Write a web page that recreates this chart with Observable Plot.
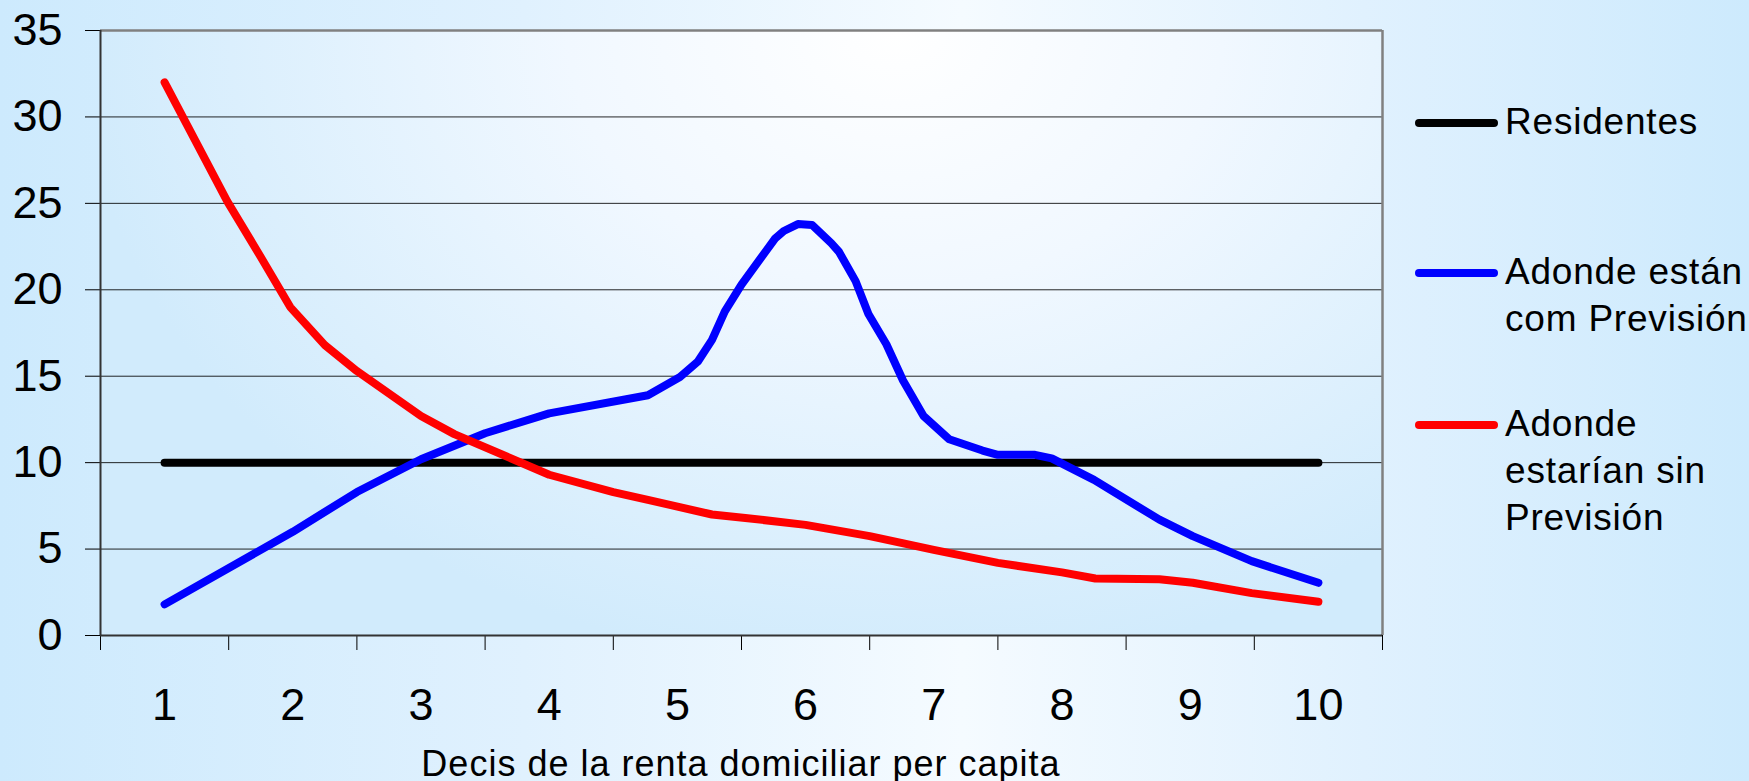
<!DOCTYPE html>
<html>
<head>
<meta charset="utf-8">
<script src="https://cdn.jsdelivr.net/npm/d3@7"></script>
<script src="https://cdn.jsdelivr.net/npm/@observablehq/plot@0.6"></script>
<style>
  html, body { margin: 0; padding: 0; }
  body { width: 1749px; height: 781px; overflow: hidden; }
  #wrap {
    position: relative; width: 1749px; height: 781px;
    background: linear-gradient(to right, #cdeafd 0%, #e0f1fe 30%, #f5fbff 55%, #e0f1fe 78%, #cdeafd 100%);
    font-family: "Liberation Sans", Arial, sans-serif;
  }
  #chart { position: absolute; left: 0; top: 0; }
  .xtitle {
    position: absolute; left: 0; width: 1482px; text-align: center;
    top: 740px; font-size: 36px; letter-spacing: 1px; color: #000; line-height: 47px;
  }
  .leg { position: absolute; left: 1505px; font-size: 37px; letter-spacing: 0.8px; line-height: 47px; color: #000; white-space: nowrap; }
  .sw { position: absolute; left: 1415px; width: 83px; height: 8px; border-radius: 4px; }
</style>
</head>
<body>
<div id="wrap">
  <div id="chart"></div>
  <div class="xtitle" id="xtitle"></div>
  <div id="legend"></div>
</div>
<script>
// ---- data ----
const deciles = [1, 2, 3, 4, 5, 6, 7, 8, 9, 10];
const residentes = [10, 10, 10, 10, 10, 10, 10, 10, 10, 10];

const conX = [1, 2, 2.5, 3, 3.5, 4, 4.77, 5.02, 5.16, 5.27, 5.37, 5.5, 5.76, 5.83, 5.94, 6.05, 6.2, 6.26, 6.39, 6.49, 6.63, 6.76, 6.92, 7.12, 7.38, 7.5, 7.79, 7.92, 8.25, 8.76, 9.02, 9.48, 10];
const conY = [1.8, 6.0, 8.3, 10.2, 11.7, 12.85, 13.9, 14.95, 15.85, 17.1, 18.75, 20.3, 22.95, 23.4, 23.8, 23.75, 22.7, 22.2, 20.5, 18.6, 16.85, 14.75, 12.7, 11.35, 10.7, 10.45, 10.45, 10.25, 9.0, 6.7, 5.75, 4.3, 3.05];

const sinX = [1, 1.49, 1.75, 1.98, 2.25, 2.5, 3, 3.26, 4, 4.5, 4.77, 5.27, 5.53, 6, 6.5, 7, 7.5, 8, 8.26, 8.76, 9.02, 9.48, 10];
const sinY = [32.0, 25.1, 21.9, 19.0, 16.8, 15.3, 12.7, 11.65, 9.3, 8.3, 7.85, 7.0, 6.8, 6.4, 5.75, 4.95, 4.2, 3.65, 3.3, 3.25, 3.05, 2.45, 1.95];

const yTicks = [0, 5, 10, 15, 20, 25, 30, 35];
const gridTicks = [5, 10, 15, 20, 25, 30];
const xBounds = [0.5, 1.5, 2.5, 3.5, 4.5, 5.5, 6.5, 7.5, 8.5, 9.5, 10.5];

const seriesNames = ["Residentes", "Adonde están\ncom Previsión", "Adonde\nestarían sin\nPrevisión"];
const seriesColors = ["#000000", "#0000ff", "#ff0000"];
const xTitle = "Decis de la renta domiciliar per capita";

// ---- tables ----
const resData = deciles.map((d, i) => ({x: d, y: residentes[i]}));
const conData = conX.map((d, i) => ({x: d, y: conY[i]}));
const sinData = sinX.map((d, i) => ({x: d, y: sinY[i]}));

const lineOpts = {x: "x", y: "y", strokeWidth: 8, strokeLinecap: "round", strokeLinejoin: "round"};

const chart = Plot.plot({
  width: 1749,
  height: 781,
  marginLeft: 100,
  marginRight: 367,
  marginTop: 30,
  marginBottom: 146,
  x: {domain: [0.5, 10.5]},
  y: {domain: [0, 35]},
  style: {background: "transparent", fontFamily: "'Liberation Sans', Arial, sans-serif", color: "#000"},
  marks: [
    Plot.frame({fill: "url(#plotGrad)", stroke: null}),
    Plot.gridY(gridTicks, {stroke: "#000", strokeOpacity: 0.85, strokeWidth: 1}),
    Plot.ruleY([35], {stroke: "#808080", strokeWidth: 2.5}),
    Plot.ruleX([10.5], {stroke: "#808080", strokeWidth: 2.5}),
    Plot.axisY(yTicks, {tickSize: 15, tickPadding: 23, fontSize: 45, label: null, stroke: "#000", tickFormat: d => String(d)}),
    Plot.axisX(xBounds, {tickSize: 15, tickFormat: () => "", label: null, stroke: "#000"}),
    Plot.axisX(deciles, {tickSize: 0, tickPadding: 53, fontSize: 45, label: null, tickFormat: d => String(d)}),
    Plot.ruleY([0], {stroke: "#333", strokeWidth: 2}),
    Plot.ruleX([0.5], {stroke: "#333", strokeWidth: 2}),
    Plot.line(resData, {...lineOpts, stroke: seriesColors[0]}),
    Plot.line(conData, {...lineOpts, stroke: seriesColors[1]}),
    Plot.line(sinData, {...lineOpts, stroke: seriesColors[2]})
  ]
});

// gradient for plot area
const ns = "http://www.w3.org/2000/svg";
const defs = document.createElementNS(ns, "defs");
defs.innerHTML = `<radialGradient id="plotGrad" cx="0.62" cy="0" r="0.85" gradientTransform="translate(0.62 0) scale(0.75 1.25) translate(-0.62 0)">
  <stop offset="0" stop-color="#ffffff"/>
  <stop offset="0.4" stop-color="#f1f8ff"/>
  <stop offset="1" stop-color="#d1ebfc"/>
</radialGradient>`;
chart.insertBefore(defs, chart.firstChild);
document.getElementById("chart").appendChild(chart);

document.getElementById("xtitle").textContent = xTitle;

// legend (HTML)
const legend = document.getElementById("legend");
const legLineY = [123, 273, 425];
seriesNames.forEach((name, i) => {
  const sw = document.createElement("div");
  sw.className = "sw";
  sw.style.top = (legLineY[i] - 4) + "px";
  sw.style.background = seriesColors[i];
  legend.appendChild(sw);
  const t = document.createElement("div");
  t.className = "leg";
  t.style.top = (legLineY[i] + 11 - 36) + "px";
  t.innerHTML = name.split("\n").join("<br>");
  legend.appendChild(t);
});
</script>
</body>
</html>
